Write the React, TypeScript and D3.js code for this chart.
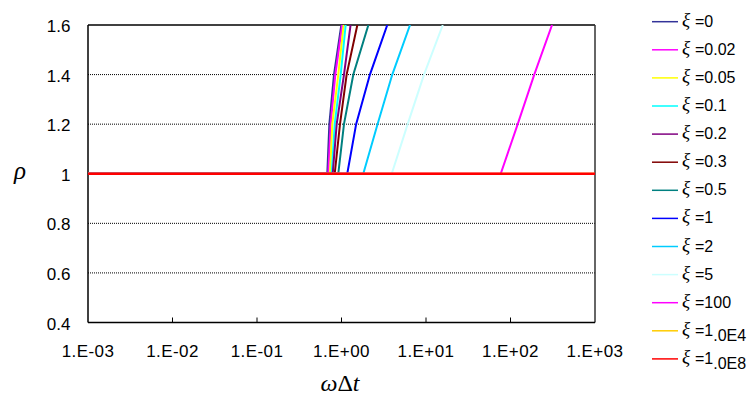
import React from "react";
import * as d3 from "d3";

const xiLabels = ["0", "0.02", "0.05", "0.1", "0.2", "0.3", "0.5", "1", "2", "5", "100", "1.0E4", "1.0E8"];
const colors = ["#333399", "#ff00ff", "#ffff00", "#00ffff", "#800080", "#800000", "#008080", "#0000ff", "#00ccff", "#ccffff", "#ff00ff", "#ffcc00", "#ff0000"];

// rho values shared by the rising curves
const rhoLevels = [1, 1, 1.2, 1.4, 1.6];
// omega*dt values for each xi (first point: flat part at rho = 1)
const wdt0 = [0.001, 0.679, 0.718, 0.815, 0.995];
const wdt002 = [0.001, 0.698, 0.745, 0.845, 1.02];
const wdt005 = [0.001, 0.731, 0.778, 0.916, 1.06];
const wdt01 = [0.001, 0.766, 0.831, 0.979, 1.12];
const wdt02 = [0.001, 0.787, 0.877, 1.07, 1.28];
const wdt03 = [0.001, 0.831, 0.96, 1.15, 1.54];
const wdt05 = [0.001, 0.916, 1.07, 1.38, 2.08];
const wdt1 = [0.001, 1.17, 1.49, 2.17, 3.48];
const wdt2 = [0.001, 1.81, 2.67, 3.99, 6.47];
const wdt5 = [0.001, 3.93, 6.07, 9.47, 15.8];
const wdt100 = [0.001, 76.6, 121.7, 191, 310];
// large xi: rho stays at 1
const flatWdt = [0.001, 1000];
const flatRho = [1, 1];

const seriesX = [wdt0, wdt002, wdt005, wdt01, wdt02, wdt03, wdt05, wdt1, wdt2, wdt5, wdt100, flatWdt, flatWdt];
const seriesY = [rhoLevels, rhoLevels, rhoLevels, rhoLevels, rhoLevels, rhoLevels, rhoLevels, rhoLevels, rhoLevels, rhoLevels, rhoLevels, flatRho, flatRho];

const xTicks = [1e-3, 1e-2, 1e-1, 1, 10, 100, 1000];
const xTickLabels = ["1.E-03", "1.E-02", "1.E-01", "1.E+00", "1.E+01", "1.E+02", "1.E+03"];
const yTicks = [0.4, 0.6, 0.8, 1, 1.2, 1.4, 1.6];
const yTickLabels = ["0.4", "0.6", "0.8", "1", "1.2", "1.4", "1.6"];

export default function App() {
  const W = 756, H = 397;
  const L = 88, R = 595, T = 25, B = 322.5;
  const x = d3.scaleLog().domain([1e-3, 1e3]).range([L, R]);
  const y = d3.scaleLinear().domain([0.4, 1.6]).range([B, T]);
  const sans = "'Liberation Sans', Arial, sans-serif";
  const serif = "'Liberation Serif', 'Times New Roman', serif";

  const paths = seriesX.map((xs, s) => {
    const pts: [number, number][] = xs.map((v, i) => [x(v), y(seriesY[s][i])]);
    return d3.line()(pts) as string;
  });

  const legendY0 = 21.7, legendStep = 28.1;

  return (
    <svg width={W} height={H} style={{ position: "absolute", left: 0, top: 0 }}>
      <rect x={0} y={0} width={W} height={H} fill="#fff" />
      <defs>
        <clipPath id="plotclip">
          <rect x={L} y={T} width={R - L} height={B - T} />
        </clipPath>
      </defs>
      {/* gridlines */}
      {yTicks.filter(v => v !== 0.4 && v !== 1.6 && v !== 1).map(v => (
        <line key={v} x1={L} x2={R} y1={y(v)} y2={y(v)} stroke="#000" strokeWidth={1} strokeDasharray="1,1" />
      ))}
      {/* frame */}
      <line x1={L} x2={R} y1={T} y2={T} stroke="#000" strokeWidth={1.5} />
      <line x1={R} x2={R} y1={T} y2={B} stroke="#333" strokeWidth={1.5} />
      <line x1={L} x2={L} y1={T} y2={B} stroke="#000" strokeWidth={1.5} />
      <line x1={L} x2={R} y1={B} y2={B} stroke="#000" strokeWidth={1.5} />
      {/* x ticks */}
      {xTicks.slice(1, -1).map(v => (
        <line key={v} x1={x(v)} x2={x(v)} y1={B} y2={B - 5} stroke="#000" strokeWidth={1} />
      ))}
      {/* series */}
      <g clipPath="url(#plotclip)">
        {paths.map((d, s) => (
          <path key={s} d={d} fill="none" stroke={colors[s]} strokeWidth={s === 12 ? 2.5 : 2} />
        ))}
      </g>
      {/* y tick labels */}
      {yTicks.map((v, i) => (
        <text key={v} x={70.5} y={y(v) + 7} textAnchor="end" fontFamily={sans} fontSize={17} fill="#000">
          {yTickLabels[i]}
        </text>
      ))}
      {/* x tick labels */}
      {xTicks.map((v, i) => (
        <text key={v} x={x(v)} y={357} textAnchor="middle" fontFamily={sans} fontSize={17} letterSpacing={0.4} fill="#000">
          {xTickLabels[i]}
        </text>
      ))}
      {/* axis titles */}
      <text x={20} y={179} textAnchor="middle" fontFamily={serif} fontStyle="italic" fontSize={25} fill="#000">ρ</text>
      <text x={340} y={391} textAnchor="middle" fontFamily={serif} fontSize={24} fill="#000">
        <tspan fontStyle="italic">ω</tspan><tspan>Δ</tspan><tspan fontStyle="italic">t</tspan>
      </text>
      {/* legend */}
      {xiLabels.map((lab, i) => {
        const cy = legendY0 + i * legendStep;
        const sub = lab.startsWith("1.0E");
        return (
          <g key={lab}>
            <line x1={652} x2={678} y1={cy} y2={cy} stroke={colors[i]} strokeWidth={1.5} />
            <text x={682} y={cy + 4} fontFamily={serif} fontStyle="italic" fontSize={19} fill="#000">ξ</text>
            <text x={695} y={cy + 5} fontFamily={sans} fontSize={16} fill="#000">
              {sub ? (
                <>
                  <tspan>{"=1"}</tspan>
                  <tspan dy={5}>{lab.slice(1)}</tspan>
                </>
              ) : (
                "=" + lab
              )}
            </text>
          </g>
        );
      })}
    </svg>
  );
}
